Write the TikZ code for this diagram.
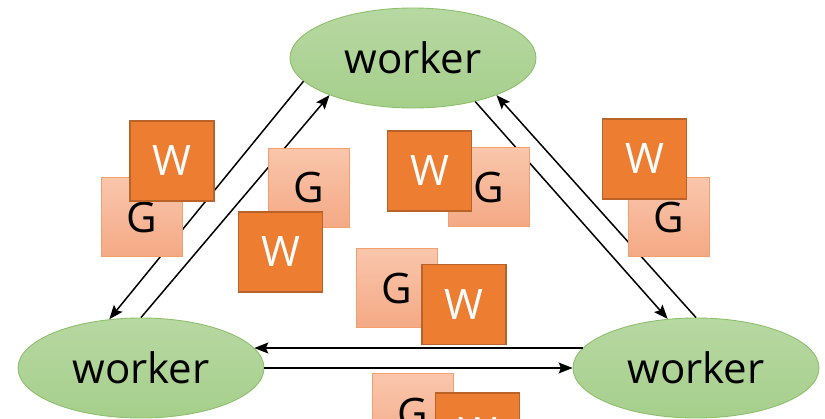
\documentclass[tikz,border=0pt]{standalone}
\usepackage{fontspec}
\setmainfont{Open Sans}
\usetikzlibrary{arrows.meta,shapes.geometric}

\definecolor{elltop}{HTML}{B7D8A2}
\definecolor{ellbot}{HTML}{A6CF8B}
\definecolor{elledge}{HTML}{8CC06C}
\definecolor{gtop}{HTML}{F9C6AC}
\definecolor{gbot}{HTML}{F4A985}
\definecolor{gedge}{HTML}{F5A06C}
\definecolor{wfill}{HTML}{ED7D31}
\definecolor{wedge}{HTML}{B9632B}

\tikzset{
  bigtext/.style={font=\fontsize{42}{50}\selectfont},
  workernode/.style={ellipse, draw=elledge, line width=0.9pt,
    top color=elltop, bottom color=ellbot,
    minimum width=246pt, minimum height=100pt, inner sep=0pt, bigtext},
  gradbox/.style={rectangle, draw=gedge, line width=1pt,
    top color=gtop, bottom color=gbot,
    minimum width=81pt, minimum height=79pt, inner sep=0pt, bigtext, text=black},
  weightbox/.style={rectangle, draw=wedge, line width=1.5pt, fill=wfill,
    minimum width=84pt, minimum height=80pt, inner sep=0pt, bigtext, text=white},
  link/.style={line width=1.5pt, black,
    -{Stealth[length=14pt,width=11pt,inset=2.5pt]}}
}

\begin{document}
\begin{tikzpicture}[x=1pt,y=-1pt]
\useasboundingbox (0,0) rectangle (825,419);
\clip (0,0) rectangle (825,419);

% workers
\node[workernode] (top)   at (413,58)  {worker};
\node[workernode] (left)  at (141,368) {worker};
\node[workernode] (right) at (696,368) {worker};

% links between workers
\draw[link] (top.192) -- (left.123);
\draw[link] (left.90) -- (top.204);
\draw[link] (top.325) -- (right.120);
\draw[link] (right.90) -- (top.336);
\draw[link] (right.170) -- (left.10);
\draw[link] (left.east) -- (right.west);

% gradients
\node[gradbox] (g1) at (141.5,217.5) {G};
\node[gradbox] (g2) at (308.5,188)   {G};
\node[gradbox] (g3) at (488.5,187.5) {G};
\node[gradbox] (g4) at (396.5,288.5) {G};
\node[gradbox] (g5) at (412.5,413.5) {G};
\node[gradbox] (g6) at (668.5,217.5) {G};

% weights
\node[weightbox] (w1) at (172,161)   {W};
\node[weightbox] (w2) at (280.5,252) {W};
\node[weightbox] (w3) at (429.5,171) {W};
\node[weightbox] (w4) at (464,304.5) {W};
\node[weightbox] (w5) at (477.5,433) {W};
\node[weightbox] (w6) at (644.5,159) {W};
\end{tikzpicture}
\end{document}
